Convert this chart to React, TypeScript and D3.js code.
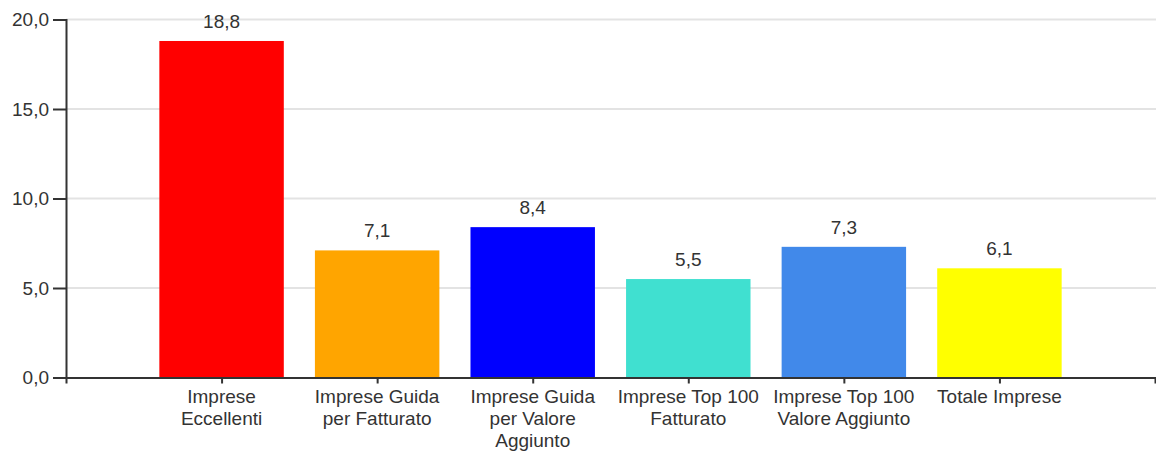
import React, { useRef, useEffect } from 'react';
import * as d3 from 'd3';

const categories = [
    'Imprese Eccellenti',
    'Imprese Guida per Fatturato',
    'Imprese Guida per Valore Aggiunto',
    'Imprese Top 100 Fatturato',
    'Imprese Top 100 Valore Aggiunto',
    'Totale Imprese',
];
// how the labels break under the axis
const labelLines = [
    ['Imprese', 'Eccellenti'],
    ['Imprese Guida', 'per Fatturato'],
    ['Imprese Guida', 'per Valore', 'Aggiunto'],
    ['Imprese Top 100', 'Fatturato'],
    ['Imprese Top 100', 'Valore Aggiunto'],
    ['Totale Imprese'],
];
const values = [18.8, 7.1, 8.4, 5.5, 7.3, 6.1];
const colors = ['#ff0000', '#ffa500', '#0000ff', '#40e0d0', '#4189ea', '#ffff00'];
const yTicks = [0, 5, 10, 15, 20];

const fmt = (v: number) => v.toFixed(1).replace('.', ',');

const App: React.FC = () => {
    const svgRef = useRef<SVGSVGElement | null>(null);

    useEffect(() => {
        if (!svgRef.current) return;
        const svg = d3.select(svgRef.current);
        svg.selectAll('*').remove();

        const left = 66;
        const right = 1155;
        const top = 19.5;
        const bottom = 377.5;
        const font = 'Arial, "Liberation Sans", sans-serif';
        const textColor = '#333';

        const x = d3.scalePoint<string>().domain(categories).range([left, right]).padding(1);
        const barW = x.step() * 0.8;
        const y = d3.scaleLinear().domain([0, 20]).range([bottom, top]);

        // gridlines
        svg.append('g')
            .selectAll('line')
            .data(yTicks.slice(1))
            .enter().append('line')
            .attr('x1', left)
            .attr('x2', 1156)
            .attr('y1', d => y(d))
            .attr('y2', d => y(d))
            .attr('stroke', '#e3e3e3')
            .attr('stroke-width', 2);

        // bars
        svg.append('g')
            .selectAll('rect')
            .data(values)
            .enter().append('rect')
            .attr('x', (d, i) => (x(categories[i]) as number) - barW / 2)
            .attr('width', barW)
            .attr('y', d => y(d))
            .attr('height', d => bottom - y(d))
            .attr('fill', (d, i) => colors[i]);

        // value labels
        svg.append('g')
            .selectAll('text')
            .data(values)
            .enter().append('text')
            .attr('x', (d, i) => x(categories[i]) as number)
            .attr('y', d => y(d) - 13)
            .attr('text-anchor', 'middle')
            .style('font-family', font)
            .style('font-size', '19px')
            .style('fill', textColor)
            .text(d => fmt(d));

        // y axis
        const yAxis = svg.append('g')
            .attr('transform', `translate(${left},0)`)
            .call(d3.axisLeft(y).tickValues(yTicks).tickSize(13).tickPadding(4).tickFormat(d => fmt(d as number)));
        yAxis.selectAll('path, line').attr('stroke', '#333').attr('stroke-width', 2);
        yAxis.selectAll('text')
            .style('font-family', font)
            .style('font-size', '19px')
            .style('fill', textColor);

        // x axis
        const xAxis = svg.append('g')
            .attr('transform', `translate(0,${bottom})`)
            .call(d3.axisBottom(x).tickSize(6).tickFormat(() => ''));
        xAxis.selectAll('path, line').attr('stroke', '#333').attr('stroke-width', 2);

        const labels = svg.append('g')
            .selectAll('text')
            .data(labelLines)
            .enter().append('text')
            .attr('text-anchor', 'middle')
            .style('font-family', font)
            .style('font-size', '19px')
            .style('fill', textColor);

        labels.each(function (lines, i) {
            const t = d3.select(this);
            lines.forEach((line, j) => {
                t.append('tspan')
                    .attr('x', x(categories[i]) as number)
                    .attr('y', bottom + 25.5 + j * 22)
                    .text(line);
            });
        });
    }, []);

    return (
        <svg
            ref={svgRef}
            width="1156"
            height="455"
            style={{ position: 'absolute', left: 0, top: 0, background: '#fff' }}
        ></svg>
    );
};

export default App;
